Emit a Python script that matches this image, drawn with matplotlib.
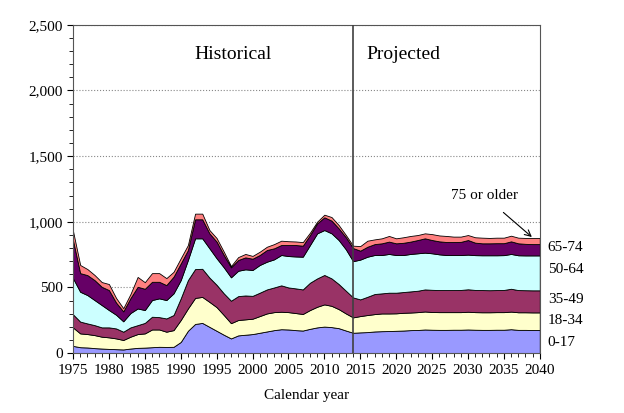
import numpy as np
import matplotlib
matplotlib.use("Agg")
import matplotlib.pyplot as plt
from matplotlib.ticker import MultipleLocator, FuncFormatter

plt.rcParams['font.family'] = ['Liberation Serif', 'DejaVu Serif']

years = list(range(1975, 2041))

# values per age group, one per calendar year 1975-2040
age_0_17 = [55, 45, 43, 38, 35, 32, 30, 28, 35, 40, 42, 45, 48, 47, 48, 85, 170, 222, 230, 200,
            170, 140, 112, 135, 140, 145, 155, 165, 175, 182, 180, 175, 172, 185, 196, 202, 198, 190, 172, 155,
            158, 160, 165, 167, 168, 170, 172, 175, 176, 180, 178, 177, 177, 178, 178, 180, 178, 177, 177, 178,
            178, 182, 177, 177, 176, 176]
age_18_34 = [140, 105, 102, 99, 90, 88, 82, 72, 90, 105, 108, 135, 132, 116, 127, 167, 170, 198, 198, 190,
             180, 150, 116, 117, 117, 117, 127, 137, 137, 133, 132, 130, 126, 143, 157, 169, 162, 145, 130, 117,
             124, 130, 132, 135, 134, 133, 135, 134, 136, 137, 135, 135, 135, 134, 134, 135, 134, 134, 134, 134,
             134, 134, 134, 134, 134, 134]
age_35_49 = [100, 90, 81, 76, 71, 76, 76, 63, 71, 68, 80, 97, 94, 101, 115, 165, 216, 220, 214, 185,
             170, 165, 171, 182, 182, 174, 178, 183, 188, 201, 188, 188, 187, 208, 216, 224, 209, 191, 173, 152,
             127, 139, 153, 153, 158, 157, 158, 161, 163, 168, 169, 168, 168, 168, 169, 171, 169, 169, 168, 168,
             169, 174, 169, 168, 168, 168]
age_50_64 = [275, 227, 216, 191, 170, 132, 104, 79, 109, 127, 98, 127, 143, 140, 165, 139, 153, 234, 232, 223,
             202, 198, 178, 193, 199, 197, 211, 211, 214, 231, 239, 243, 249, 287, 343, 342, 343, 335, 315, 276,
             303, 305, 297, 292, 295, 287, 282, 285, 285, 280, 278, 272, 267, 267, 266, 264, 265, 265, 266, 265,
             265, 265, 265, 265, 266, 266]
age_65_74 = [290, 142, 152, 152, 139, 152, 93, 76, 114, 165, 162, 139, 126, 114, 127, 127, 76, 145, 145, 114,
             127, 94, 76, 82, 91, 86, 76, 89, 84, 76, 84, 87, 84, 76, 76, 97, 97, 89, 92, 100,
             68, 76, 83, 89, 94, 89, 93, 94, 101, 109, 101, 99, 99, 99, 100, 111, 95, 91, 91, 92,
             91, 96, 91, 88, 86, 86]
age_75_up = [70, 62, 46, 39, 36, 46, 35, 24, 31, 75, 50, 66, 66, 53, 37, 39, 38, 43, 43, 25,
             27, 25, 10, 22, 26, 21, 25, 25, 32, 33, 29, 27, 27, 18, 13, 20, 27, 25, 17, 18,
             35, 46, 36, 38, 43, 38, 42, 43, 38, 38, 45, 45, 46, 41, 40, 38, 41, 43, 41, 42,
             42, 43, 43, 45, 47, 47]

group_labels = ['0-17', '18-34', '35-49', '50-64', '65-74']
label_y = [79, 246, 411, 633, 803]
colors = ['#9999FF', '#FFFFCC', '#993366', '#CCFFFF', '#660066', '#FF8080']

fig = plt.figure(figsize=(6.24, 4.13), dpi=100)
ax = fig.add_axes([0.117, 0.145, 0.748, 0.795])

ax.stackplot(years, age_0_17, age_18_34, age_35_49, age_50_64, age_65_74, age_75_up,
             colors=colors, edgecolor='black', linewidth=0.6, zorder=2)

ax.axvline(2014, color='#404040', linewidth=1.2, zorder=3)

ax.set_xlim(1975, 2040)
ax.set_ylim(0, 2500)
ax.xaxis.set_major_locator(MultipleLocator(5))
ax.xaxis.set_minor_locator(MultipleLocator(1))
ax.yaxis.set_major_locator(MultipleLocator(500))
ax.yaxis.set_minor_locator(MultipleLocator(100))
ax.yaxis.set_major_formatter(FuncFormatter(lambda v, p: f'{int(v):,}'))
ax.tick_params(which='major', length=4, width=0.8, labelsize=11, direction='out')
ax.tick_params(which='minor', length=3, width=0.6, direction='out')
ax.grid(axis='y', which='major', linestyle=':', color='#888888', linewidth=0.8, zorder=0)
ax.set_axisbelow(True)
for s in ax.spines.values():
    s.set_color('#555555')
    s.set_linewidth(0.8)

ax.set_xlabel('Calendar year', fontsize=11, labelpad=9)

ax.text(1997.3, 2270, 'Historical', fontsize=14, ha='center', va='center')
ax.text(2021, 2270, 'Projected', fontsize=14, ha='center', va='center')

ax.annotate('75 or older', xy=(2038.9, 884), xytext=(2027.6, 1197), fontsize=11,
            ha='left', va='center',
            arrowprops=dict(arrowstyle='->', color='black', lw=0.8, shrinkA=8, shrinkB=0))

trans = ax.get_yaxis_transform()
for lab, yv in zip(group_labels, label_y):
    ax.text(1.017, yv, lab, transform=trans, fontsize=11, ha='left', va='center')

fig.savefig('out.png', dpi=100)
